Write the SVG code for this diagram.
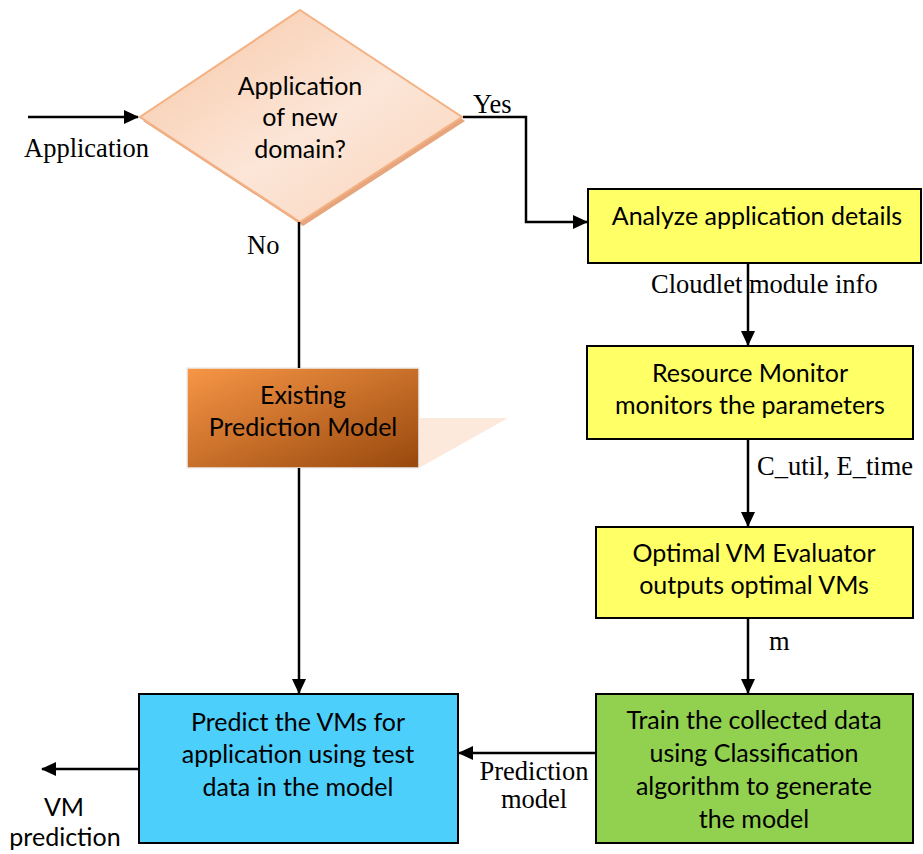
<svg xmlns="http://www.w3.org/2000/svg" width="923" height="854" viewBox="0 0 923 854">
  <style>
    .box { stroke: #000; stroke-width: 2; }
    .sans { font-family: Lato, "Open Sans", "Liberation Sans", sans-serif; font-size: 25px; fill: #000; text-anchor: middle; }
    .serif { font-family: "Liberation Serif", "Times New Roman", serif; font-size: 26.5px; fill: #000; }
    .wire { fill: none; stroke: #000; stroke-width: 2.5; }
  </style>
  <defs>
    <linearGradient id="peach" x1="0" y1="0" x2="1" y2="1">
      <stop offset="0" stop-color="#f7c6a4"/>
      <stop offset="0.55" stop-color="#fce6d8"/>
      <stop offset="1" stop-color="#f9d3b8"/>
    </linearGradient>
    <linearGradient id="rust" x1="0" y1="0" x2="1" y2="1">
      <stop offset="0" stop-color="#f79646"/>
      <stop offset="1" stop-color="#98480d"/>
    </linearGradient>
    <marker id="head" markerWidth="15" markerHeight="14" refX="14" refY="7" orient="auto" markerUnits="userSpaceOnUse">
      <path d="M0,0 L15,7 L0,14 z" fill="#000"/>
    </marker>
  </defs>

  <!-- decision -->
  <g id="decision">
    <polygon points="303,14 465,121 303,226 143,121" fill="#e6a57c"/>
    <polygon points="300,10 462,117 300,222 140,117" fill="url(#peach)" stroke="#f4b183" stroke-width="2"/>
    <text class="sans" x="300" y="95">Application</text>
    <text class="sans" x="300" y="126">of new</text>
    <text class="sans" x="300" y="158">domain?</text>
  </g>

  <!-- existing model -->
  <g id="existing">
    <polygon points="419,418 508,418 419,468" fill="#fde9dc"/>
    <rect x="187" y="368" width="232" height="100" fill="url(#rust)" stroke="#eeeeee" stroke-width="1.5"/>
    <text class="sans" x="303" y="404">Existing</text>
    <text class="sans" x="303" y="436">Prediction Model</text>
  </g>

  <g id="analyze">
    <rect class="box" x="588" y="189" width="333" height="74" fill="#ffff66"/>
    <text class="sans" x="757" y="225">Analyze application details</text>
  </g>

  <g id="monitor">
    <rect class="box" x="587" y="346" width="326" height="93" fill="#ffff66"/>
    <text class="sans" x="750" y="382">Resource Monitor</text>
    <text class="sans" x="750" y="414">monitors the parameters</text>
  </g>

  <g id="evaluator">
    <rect class="box" x="596" y="527" width="317" height="91" fill="#ffff66"/>
    <text class="sans" x="754" y="562">Optimal VM Evaluator</text>
    <text class="sans" x="754" y="594">outputs optimal VMs</text>
  </g>

  <g id="train">
    <rect class="box" x="596" y="694" width="317" height="149" fill="#92d050"/>
    <text class="sans" x="754" y="729">Train the collected data</text>
    <text class="sans" x="754" y="762">using Classification</text>
    <text class="sans" x="754" y="795">algorithm to generate</text>
    <text class="sans" x="754" y="828">the model</text>
  </g>

  <g id="predict">
    <rect class="box" x="139" y="694" width="319" height="149" fill="#4dcffc"/>
    <text class="sans" x="298" y="731">Predict the VMs for</text>
    <text class="sans" x="298" y="763">application using test</text>
    <text class="sans" x="298" y="796">data in the model</text>
  </g>

  <!-- connectors -->
  <g id="connectors">
    <path class="wire" d="M28,117 H138" marker-end="url(#head)"/>
    <path class="wire" d="M463,117 H526 V222 H587" marker-end="url(#head)"/>
    <path class="wire" d="M299,222 V368"/>
    <path class="wire" d="M299,468 V693" marker-end="url(#head)"/>
    <path class="wire" d="M748,264 V345" marker-end="url(#head)"/>
    <path class="wire" d="M748,439 V526" marker-end="url(#head)"/>
    <path class="wire" d="M748,618 V693" marker-end="url(#head)"/>
    <path class="wire" d="M596,753 H459" marker-end="url(#head)"/>
    <path class="wire" d="M138,769 H42" marker-end="url(#head)"/>
  </g>

  <!-- connector labels -->
  <g id="labels">
    <text class="serif" x="24" y="157">Application</text>
    <text class="serif" x="473" y="113">Yes</text>
    <text class="serif" x="247" y="254">No</text>
    <text class="serif" x="651" y="293">Cloudlet module info</text>
    <text class="serif" x="757" y="475">C_util, E_time</text>
    <text class="serif" x="769" y="650">m</text>
    <text class="serif" x="534" y="780" text-anchor="middle">Prediction</text>
    <text class="serif" x="534" y="808" text-anchor="middle">model</text>
    <text class="sans" x="64" y="816">VM</text>
    <text class="sans" x="65" y="846">prediction</text>
  </g>
</svg>
